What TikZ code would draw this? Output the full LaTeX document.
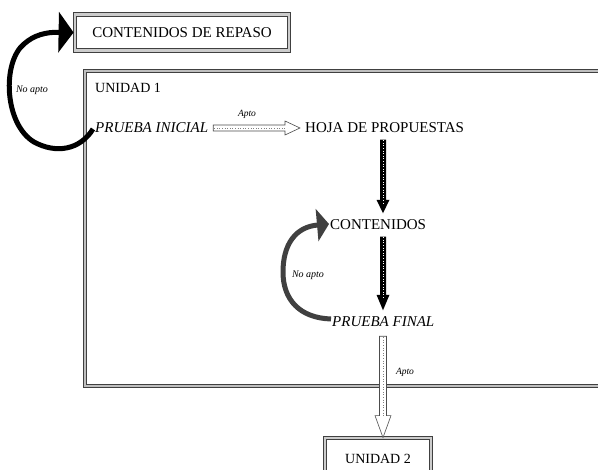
\documentclass[tikz,border=0pt]{standalone}
\usepackage{fontspec}
\setmainfont{Liberation Serif}
\usetikzlibrary{calc,arrows.meta}
\begin{document}
\begin{tikzpicture}[x=1pt,y=-1pt,
  txt/.style={inner sep=0pt, font=\fontsize{15}{18}\selectfont},
  itxt/.style={inner sep=0pt, font=\fontsize{15}{18}\selectfont\itshape},
  small/.style={inner sep=0pt, font=\fontsize{9.5}{11}\selectfont\itshape},
  framebox/.style={draw=black!75, line width=0.8pt, double=gray!40, double distance=2.8pt, fill=white},
  bigframe/.style={draw=black!75, line width=0.8pt, double=gray!50, double distance=1.6pt},
  hollow/.style={draw=gray!60!black, fill=white, line width=0.6pt},
  curvearrow/.style={line width=5pt, line cap=butt}
]
\useasboundingbox (0,0) rectangle (598,470);
\clip (0,0) rectangle (598,470);

% big UNIDAD 1 frame
\node[bigframe, minimum width=537pt, minimum height=315pt, inner sep=0pt] (u1box) at (353.5,228.5) {};

% frames
\node[framebox, txt, minimum width=214pt, minimum height=36pt] (repaso) at (182,32.5) {CONTENIDOS DE REPASO};
\node[framebox, inner sep=0pt, minimum width=106pt, minimum height=42pt, font=\fontsize{14}{17}\selectfont] (u2) at (378,459) {UNIDAD 2};

% texts
\node[txt, anchor=west, font=\fontsize{14}{17}\selectfont] (u1) at (95,88) {UNIDAD 1};
\node[itxt, anchor=west] (pi) at (95,128) {PRUEBA INICIAL};
\node[txt, anchor=west] (hoja) at (305,128) {HOJA DE PROPUESTAS};
\node[txt, anchor=west] (cont) at (330,225) {CONTENIDOS};
\node[itxt, anchor=west] (pf) at (332,322) {PRUEBA FINAL};
\coordinate (ax) at (383,0);

% hollow arrow Apto (horizontal)
\draw[hollow] let \p1=($(pi.east)+(5,0)$), \p2=($(hoja.west)+(-5,0)$) in
  (\x1,\y1+3) -- (\x2-15,\y1+3) -- (\x2-15,\y1+7) -- (\x2,\y1) -- (\x2-15,\y1-7) -- (\x2-15,\y1-3) -- (\x1,\y1-3) -- cycle;
\draw[gray, dotted, line width=0.6pt] let \p1=($(pi.east)+(5,0)$), \p2=($(hoja.west)+(-5,0)$) in
  (\x1+1,\y1) -- (\x2-15,\y1);
\node[small] (apto1) at (247,114) {Apto};

% black arrows
\fill[black] let \p1=(ax |- hoja.south), \p2=(ax |- cont.north) in
  (\x1-3,\y1-6.5) -- (\x1+3,\y1-6.5) -- (\x1+3,\y2+20) -- (\x1+6.5,\y2+20) -- (\x1,\y2+6.5) -- (\x1-6.5,\y2+20) -- (\x1-3,\y2+20) -- cycle;
\draw[white, dotted, line width=0.6pt] let \p1=(ax |- hoja.south), \p2=(ax |- cont.north) in
  (\x1,\y1-7) -- (\x1,\y2+16);
\fill[black] let \p1=(ax |- cont.south), \p2=(ax |- pf.north) in
  (\x1-3,\y1-6.5) -- (\x1+3,\y1-6.5) -- (\x1+3,\y2+22) -- (\x1+6.5,\y2+22) -- (\x1,\y2+6.5) -- (\x1-6.5,\y2+22) -- (\x1-3,\y2+22) -- cycle;
\draw[white, dotted, line width=0.6pt] let \p1=(ax |- cont.south), \p2=(ax |- pf.north) in
  (\x1,\y1-7) -- (\x1,\y2+18);

% hollow arrow Apto (vertical)
\draw[hollow] let \p1=(ax |- pf.south), \p2=(ax |- u2.north) in
  (\x1-3.5,\y1-9) -- (\x1+3.5,\y1-9) -- (\x1+3.5,\y2+22) -- (\x1+8,\y2+22) -- (\x1,\y2) -- (\x1-8,\y2+22) -- (\x1-3.5,\y2+22) -- cycle;
\draw[gray, dotted, line width=0.6pt] let \p1=(ax |- pf.south), \p2=(ax |- u2.north) in
  (\x1,\y1-10) -- (\x1,\y2+22);
\node[small] (apto2) at (405,372) {Apto};

% curved No apto arrows
\draw[curvearrow, black, -{Triangle[length=15pt, width=40pt]}]
  ($(pi.west)+(-2,1)$) .. controls (80,150) and (56,154) .. (34,142)
  .. controls (4,124) and (2,62) .. (24,44)
  .. controls (34,35) and (46,32) .. ($(repaso.west)+(-1,0)$);
\node[small, font=\fontsize{10}{12}\selectfont\itshape] (na1) at (32,90) {No apto};

\draw[curvearrow, black!75, -{Triangle[length=12pt, width=32pt]}]
  ($(pf.west)+(-1,-3)$) .. controls (300,318) and (283,300) .. (283,272)
  .. controls (283,245) and (295,227) .. ($(cont.west)+(-1,-1)$);
\node[small, font=\fontsize{10}{12}\selectfont\itshape] (na2) at (308,275) {No apto};
\end{tikzpicture}
\end{document}
